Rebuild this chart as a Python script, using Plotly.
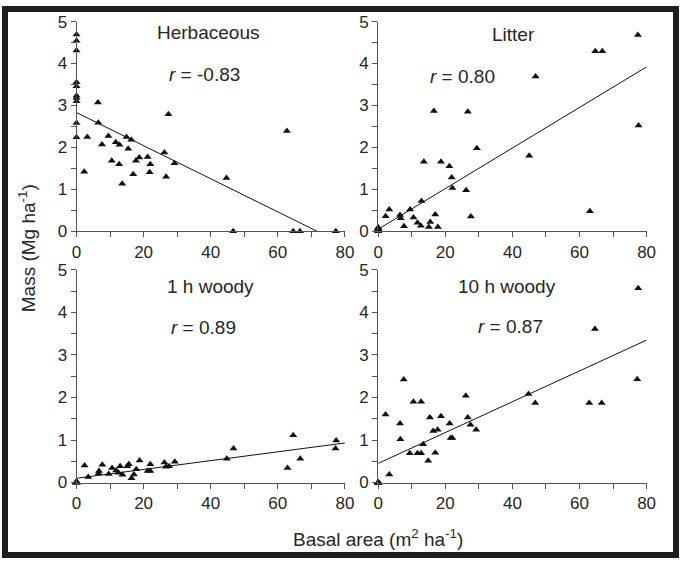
import plotly.graph_objects as go

# ---------------- data ----------------
herb_x = [0, 0, 0, 0, 0, 0, 0, 0, 0, 0,
          2.3, 3.2, 6.4, 6.5, 7.6, 9.5, 10.5, 11.7, 12.8, 12.7,
          13.6, 14.9, 15.4, 16.3, 16.9, 17.7, 18.7, 21.2, 21.8, 22.0,
          26.2, 26.7, 27.4, 29.2, 44.7, 46.7, 62.7, 64.6, 66.6, 77.3]
herb_y = [4.69, 4.54, 4.31, 3.55, 3.46, 3.23, 3.18, 3.10, 2.58, 2.24,
          1.42, 2.25, 3.07, 2.59, 2.07, 2.27, 1.68, 2.12, 2.06, 1.60,
          1.13, 2.25, 1.97, 2.18, 1.36, 1.68, 1.76, 1.77, 1.41, 1.60,
          1.88, 1.30, 2.79, 1.62, 1.27, 0.0, 2.39, 0.0, 0.0, 0.0]

litter_x = [0, 0, 0, 0, 0, 0, 0, 0, 0, 0,
            2.2, 3.3, 6.5, 6.7, 7.7, 9.5, 10.5, 11.7, 12.7, 12.9,
            13.6, 15.1, 15.5, 16.6, 17.0, 17.8, 18.7, 21.2, 21.9, 22.1,
            26.2, 26.7, 27.6, 29.4, 45.0, 46.9, 63.1, 64.7, 66.8, 77.4, 77.6]
litter_y = [0.02, 0.04, 0.06, 0.08, 0.03, 0.05, 0.0, 0.07, 0.01, 0.09,
            0.36, 0.52, 0.39, 0.31, 0.12, 0.52, 0.33, 0.20, 0.13, 0.72,
            1.66, 0.10, 0.22, 2.87, 0.40, 0.10, 1.66, 1.55, 1.28, 1.03,
            0.98, 2.85, 0.35, 1.98, 1.80, 3.69, 0.48, 4.29, 4.29, 4.68, 2.52]

woody1_x = [0, 0, 0, 0, 0, 0, 0, 0, 0, 0,
            2.4, 3.5, 6.6, 6.7, 7.7, 9.6, 10.6, 11.8, 12.5, 13.0,
            13.7, 15.1, 15.6, 16.4, 17.1, 17.8, 18.8, 21.2, 22.0, 22.0,
            26.2, 26.7, 27.6, 29.3, 44.8, 46.8, 62.9, 64.6, 66.7, 77.4, 77.2]
woody1_y = [0.0, 0.01, 0.02, 0.0, 0.01, 0.0, 0.02, 0.0, 0.01, 0.0,
            0.40, 0.13, 0.21, 0.27, 0.42, 0.20, 0.34, 0.28, 0.23, 0.38,
            0.18, 0.38, 0.43, 0.10, 0.19, 0.31, 0.52, 0.27, 0.27, 0.43,
            0.47, 0.37, 0.38, 0.49, 0.56, 0.80, 0.34, 1.11, 0.56, 0.99, 0.80]

woody10_x = [0, 0, 0, 0, 0, 0, 0, 0, 0, 0,
             2.2, 3.3, 6.5, 6.6, 7.6, 9.4, 10.5, 11.7, 12.8, 12.8,
             13.4, 14.9, 15.4, 16.4, 17.0, 17.7, 18.7, 21.3, 21.6, 22.1,
             26.1, 26.7, 27.5, 29.2, 44.8, 46.8, 62.9, 64.6, 66.6, 77.2, 77.5]
woody10_y = [0.0, 0.0, 0.0, 0.0, 0.0, 0.0, 0.0, 0.0, 0.0, 0.0,
             1.60, 0.19, 1.39, 1.02, 2.42, 0.69, 1.90, 0.69, 1.90, 0.69,
             0.90, 0.51, 1.53, 1.21, 0.70, 1.24, 1.56, 1.39, 1.05, 1.05,
             2.04, 1.53, 1.36, 1.24, 2.08, 1.87, 1.87, 3.61, 1.87, 2.43, 4.57]

# regression lines (end points)
herb_line_x = [0, 71.7]
herb_line_y = [2.83, 0.0]
litter_line_x = [0, 80]
litter_line_y = [0.05, 3.92]
woody1_line_x = [0, 80]
woody1_line_y = [0.10, 0.93]
woody10_line_x = [0, 80]
woody10_line_y = [0.45, 3.35]

panel_titles = ["Herbaceous", "Litter", "1 h woody", "10 h woody"]
panel_r = ["-0.83", "0.80", "0.89", "0.87"]

x_ticks = [0, 20, 40, 60, 80]
y_ticks = [0, 1, 2, 3, 4, 5]

# ---------------- figure ----------------
W, H = 685, 565
FONT = "Liberation Sans, Arial, sans-serif"
TXT = "#262626"
AX = "#555555"

fig = go.Figure()

panels = [
    (herb_x, herb_y, herb_line_x, herb_line_y, "x", "y"),
    (litter_x, litter_y, litter_line_x, litter_line_y, "x2", "y2"),
    (woody1_x, woody1_y, woody1_line_x, woody1_line_y, "x3", "y3"),
    (woody10_x, woody10_y, woody10_line_x, woody10_line_y, "x4", "y4"),
]

for px, py, lx, ly, xa, ya in panels:
    fig.add_trace(go.Scatter(x=lx, y=ly, mode="lines", xaxis=xa, yaxis=ya,
                             line=dict(color="#111111", width=1),
                             showlegend=False, hoverinfo="skip"))
    fig.add_trace(go.Scatter(x=px, y=py, mode="markers", xaxis=xa, yaxis=ya,
                             marker=dict(symbol="triangle-up", size=7, color="#111111"),
                             cliponaxis=False, showlegend=False))

xl = [73 / W, 347 / W]
xr = [381 / W, 655 / W]
yt = [1 - 230 / H, 1 - 13 / H]
yb = [1 - 490 / H, 1 - 270 / H]

def xax(dom, anchor):
    return dict(domain=dom, anchor=anchor, range=[0, 80], tickvals=x_ticks,
                ticks="outside", ticklen=5, tickcolor=AX, showline=True,
                linecolor=AX, linewidth=1, showgrid=False, zeroline=False,
                minor=dict(dtick=10, tick0=0, ticks="outside", ticklen=5, tickcolor=AX),
                tickfont=dict(family=FONT, size=17, color=TXT), fixedrange=True)

def yax(dom, anchor):
    return dict(domain=dom, anchor=anchor, range=[0, 5], tickvals=y_ticks,
                ticks="outside", ticklen=5, tickcolor=AX, showline=True,
                linecolor=AX, linewidth=1, showgrid=False, zeroline=False,
                minor=dict(dtick=0.5, tick0=0, ticks="outside", ticklen=5, tickcolor=AX),
                tickfont=dict(family=FONT, size=17, color=TXT), fixedrange=True)

title_pos = [(39.2, 4.73), (40.2, 4.70), (40.0, 4.62), (38.5, 4.62)]
r_pos = [(38.2, 3.73), (25.2, 3.69), (38.0, 3.65), (39.4, 3.67)]
refs = [("x", "y"), ("x2", "y2"), ("x3", "y3"), ("x4", "y4")]

annotations = []
for (t, r, tp, rp, (xr_, yr_)) in zip(panel_titles, panel_r, title_pos, r_pos, refs):
    annotations.append(dict(x=tp[0], y=tp[1], xref=xr_, yref=yr_, text=t,
                            xanchor="center", yanchor="middle",
                            showarrow=False, font=dict(family=FONT, size=19, color=TXT)))
    annotations.append(dict(x=rp[0], y=rp[1], xref=xr_, yref=yr_,
                            text="<i>r</i> = " + r, showarrow=False,
                            xanchor="center", yanchor="middle",
                            font=dict(family=FONT, size=19, color=TXT)))

annotations.append(dict(x=381 / W, y=1 - 547 / H, xref="paper", yref="paper",
                        xanchor="center", yanchor="middle",
                        text="Basal area (m<sup>2</sup> ha<sup>-1</sup>)", showarrow=False,
                        font=dict(family=FONT, size=19, color=TXT)))
annotations.append(dict(x=22 / W, y=1 - 248 / H, xref="paper", yref="paper",
                        xanchor="center", yanchor="middle",
                        text="Mass (Mg ha<sup>-1</sup>)", textangle=-90, showarrow=False,
                        font=dict(family=FONT, size=19, color=TXT)))

fig.update_layout(
    width=W, height=H,
    margin=dict(l=0, r=0, t=0, b=0),
    paper_bgcolor="white", plot_bgcolor="white",
    xaxis=xax(xl, "y"), yaxis=yax(yt, "x"),
    xaxis2=xax(xr, "y2"), yaxis2=yax(yt, "x2"),
    xaxis3=xax(xl, "y3"), yaxis3=yax(yb, "x3"),
    xaxis4=xax(xr, "y4"), yaxis4=yax(yb, "x4"),
    annotations=annotations,
    shapes=[dict(type="rect", xref="paper", yref="paper", x0=0, x1=1, y0=0, y1=1,
                 line=dict(color="#1e1e1e", width=6), fillcolor="rgba(0,0,0,0)")],
    showlegend=False,
)

fig.write_html(
    "out.html",
    config={"displayModeBar": False, "staticPlot": True},
    post_script="document.body.style.margin='0';document.body.style.padding='0';"
                "document.body.style.overflow='hidden';"
                "document.documentElement.style.overflow='hidden';",
)
